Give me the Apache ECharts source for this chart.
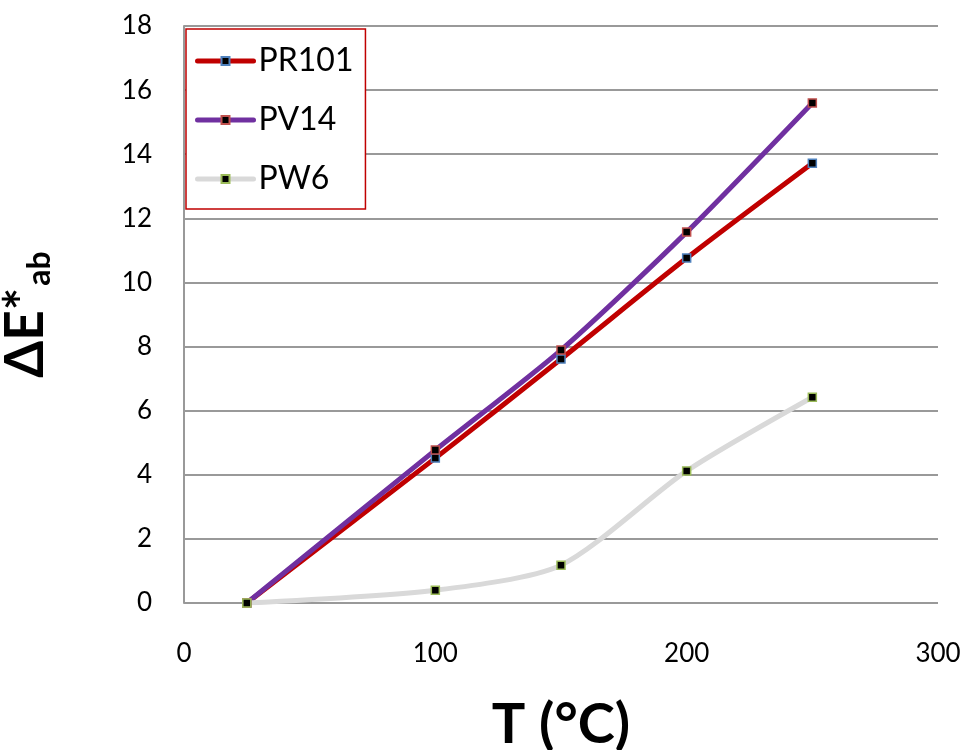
<!DOCTYPE html>
<html><head><meta charset="utf-8">
<script src="https://cdn.jsdelivr.net/npm/echarts@6/dist/echarts.min.js"></script>
<style>html,body{margin:0;padding:0;background:#fff}#c{width:971px;height:750px}</style>
</head><body><div id="c"></div>
<script>
const temps = [25, 100, 150, 200, 250];
const pr101 = [0, 4.52, 7.61, 10.76, 13.72];
const pv14 = [0, 4.77, 7.89, 11.57, 15.6];
const pw6 = [0, 0.4, 1.18, 4.12, 6.42];
const seriesNames = ['PR101', 'PV14', 'PW6'];
const xTicks = [0, 100, 200, 300];
const yTicks = [0, 2, 4, 6, 8, 10, 12, 14, 16, 18];

const font = 'Lato, "Open Sans", sans-serif';
function mk(name, vals, color, border) {
  return {
    name: name, type: 'line', smooth: 0.25,
    data: temps.map((t, i) => [t, vals[i]]),
    symbol: 'rect', symbolSize: 8,
    lineStyle: { color: color, width: 5, cap: 'round' },
    itemStyle: { color: '#000', borderColor: border, borderWidth: 1.5 },
    emphasis: { disabled: true }
  };
}
const chart = echarts.init(document.getElementById('c'));
chart.setOption({
  animation: false,
  backgroundColor: '#fff',
  grid: { left: 184, right: 33, top: 26, bottom: 147, containLabel: false, outerBoundsMode: 'none' },
  legend: {
    orient: 'vertical', left: 186, top: 29,
    padding: [16, 12, 14, 9],
    itemGap: 27,
    itemWidth: 56, itemHeight: 10,
    borderColor: '#c00000', borderWidth: 1.5,
    backgroundColor: '#fff',
    lineStyle: { width: 5, cap: 'round' },
    textStyle: { fontFamily: font, fontSize: 32, color: '#000', padding: [0, 0, 0, 0] },
    data: seriesNames
  },
  xAxis: {
    type: 'value', min: 0, max: 300, interval: 100,
    axisLine: { show: false }, axisTick: { show: false },
    splitLine: { show: false },
    axisLabel: { fontFamily: font, fontSize: 26, color: '#000', margin: 38 },
    name: 'T (°C)', nameLocation: 'middle', nameGap: 94,
    nameTextStyle: { fontFamily: font, fontSize: 56, fontWeight: 'bold', color: '#000' }
  },
  yAxis: {
    type: 'value', min: 0, max: 18, interval: 2,
    axisLine: { show: true, lineStyle: { color: '#999', width: 2 } },
    axisTick: { show: false },
    splitLine: { show: true, lineStyle: { color: '#999', width: 2 } },
    axisLabel: { fontFamily: font, fontSize: 26, color: '#000', margin: 32 },
    name: '{a|ΔE*}{b|ab}', nameLocation: 'middle', nameGap: 128, nameRotate: 90,
    nameTextStyle: {
      rich: {
        a: { fontFamily: font, fontSize: 53, fontWeight: 'bold', color: '#000' },
        b: { fontFamily: font, fontSize: 32, fontWeight: 'bold', color: '#000', padding: [28, 0, 0, 2] }
      }
    }
  },
  series: [
    mk('PR101', pr101, '#c00000', '#4f81bd'),
    mk('PV14', pv14, '#7030a0', '#c0504d'),
    mk('PW6', pw6, '#d9d9d9', '#9bbb59')
  ]
});
</script></body></html>
